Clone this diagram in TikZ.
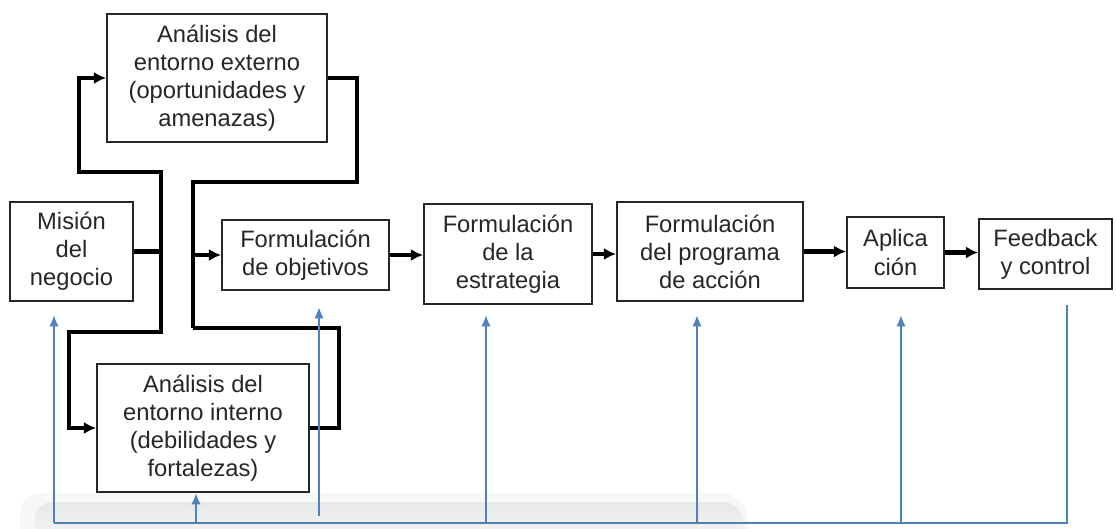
\documentclass[tikz,border=0pt]{standalone}
\usepackage{fontspec}
\setmainfont{Liberation Sans}
\usetikzlibrary{arrows.meta,calc}
\definecolor{fbblue}{HTML}{4F81BD}
\definecolor{txt}{HTML}{262626}
\begin{document}
\begin{tikzpicture}[x=0.02cm,y=-0.02cm,
  box/.style={draw=black!85,line width=1.1pt,fill=white,inner sep=0pt,align=center,
    text=txt,font=\fontsize{13.5}{16}\selectfont},
  conn/.style={line width=2.3pt,black},
  arr/.style={conn,-{Latex[length=7pt,width=7pt]}},
  fb/.style={line width=1.5pt,fbblue},
  fbarr/.style={fb,-{Latex[length=6.5pt,width=5.5pt]}}]
\useasboundingbox (0,0) rectangle (1116,528);
% screenshot background band
\begin{scope}
\clip (0,0) rectangle (1116,528);
\fill[gray!6,rounded corners=12pt] (20,493) -- (743,493) -- (755,560) -- (20,560) -- cycle;
\shade[top color=gray!18,bottom color=gray!3,rounded corners=10pt] (35,502) -- (740,502) -- (750,560) -- (35,560) -- cycle;
\end{scope}
% boxes
\node[box,minimum width=4.4cm,minimum height=2.56cm] (ext) at (217,78) {Análisis del\\entorno externo\\(oportunidades y\\amenazas)};
\node[box,minimum width=2.46cm,minimum height=1.98cm] (mis) at (71.5,251.5) {Misión\\del\\negocio};
\node[box,minimum width=3.34cm,minimum height=1.4cm] (obj) at (305.5,255) {Formulación\\de objetivos};
\node[box,minimum width=4.24cm,minimum height=2.56cm] (int) at (203,428) {Análisis del\\entorno interno\\(debilidades y\\fortalezas)};
\node[box,minimum width=3.36cm,minimum height=2.0cm] (est) at (508,254) {Formulación\\de la\\estrategia};
\node[box,minimum width=3.72cm,minimum height=1.98cm] (prog) at (710,251.5) {Formulación\\del programa\\de acción};
\node[box,minimum width=1.94cm,minimum height=1.42cm] (apl) at (895.5,252.5) {Aplica\\ción};
\node[box,minimum width=2.66cm,minimum height=1.4cm] (feed) at (1045.5,254) {Feedback\\y control};
% black connectors
\coordinate (jl) at (161,251.5);
\coordinate (lt) at (161,172);
\coordinate (lb) at (161,332);
\coordinate (rt) at (193,182);
\coordinate (rb) at (193,328);
\draw[conn] (mis.east) -- (jl);
\draw[conn,line cap=rect] (lt) -- (lb);
\draw[arr] (lt) -- ++(-82,0) |- (ext.west);
\draw[arr] (lb) -- ++(-92,0) |- (int.west);
\draw[conn] (ext.east) -- ++(29,0) |- (rt) -- (rb);
\draw[conn] (int.east) -- ++(29,0) |- (rb);
\draw[arr] (rt |- obj.west) -- (obj.west);
\draw[arr] (obj.east) -- (obj.east -| est.west);
\draw[arr] (est.east) -- (est.east -| prog.west);
\draw[arr] (prog.east) -- (prog.east -| apl.west);
\draw[arr] (apl.east) -- (apl.east -| feed.west);
% blue feedback lines
\coordinate (bl) at (54,523);
\coordinate (br) at (1067,523);
\coordinate (fr) at (1067,305);
\coordinate (b1) at (196,523);
\coordinate (b2) at (319,516);
\coordinate (b3) at (486,523);
\coordinate (b4) at (697,523);
\coordinate (b5) at (901,523);
\draw[fb] (fr) -- (br) -- (bl);
\draw[fbarr] (bl) -- ++(0,-208);
\draw[fbarr] (b1) -- (b1 |- int.south);
\draw[fbarr] (b2) -- ++(0,-209);
\draw[fbarr] (b3) -- ++(0,-208);
\draw[fbarr] (b4) -- ++(0,-208);
\draw[fbarr] (b5) -- ++(0,-208);
\end{tikzpicture}
\end{document}
